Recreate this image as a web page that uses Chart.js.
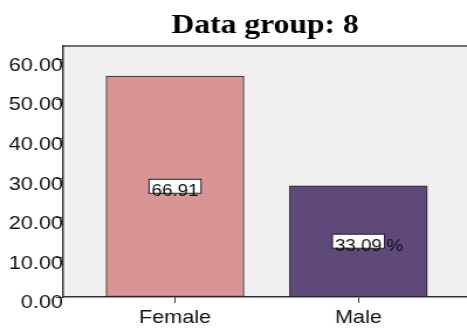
<!DOCTYPE html>
<html>
<head>
<meta charset="utf-8">
<script src="https://cdn.jsdelivr.net/npm/chart.js@4"></script>
<style>
  html, body { margin: 0; padding: 0; background: #fff; overflow: hidden; }
  /* the source picture is stretched sideways, text included */
  #wrap { width: 399px; height: 332px; transform: scaleX(1.1704); transform-origin: 0 0; }
</style>
</head>
<body>
<div id="wrap"><canvas id="chart" width="399" height="332"></canvas></div>
<script>
const categories = ['Female', 'Male']
const barValues = [55.9, 28.1]
const pctLabels = ['66.91', '33.09']
const pctSuffix = ['', '%']
const yTicks = [0, 10, 20, 30, 40, 50, 60]

const barColors = ['#d99594', '#5f497a']
const sansFont = "'Liberation Sans', Arial, sans-serif"

// grey plot background with a top border line
const plotBackground = {
  id: 'plotBackground',
  beforeDraw(chart) {
    const { ctx, chartArea: a } = chart
    ctx.save()
    ctx.fillStyle = '#f0f0f0'
    ctx.fillRect(a.left, a.top, a.right - a.left, a.bottom - a.top)
    ctx.strokeStyle = '#444'
    ctx.lineWidth = 1.5
    ctx.beginPath()
    ctx.moveTo(a.left, a.top)
    ctx.lineTo(a.right, a.top)
    ctx.stroke()
    ctx.restore()
  }
}

// white boxed percentage labels in the middle of each bar
const barLabels = {
  id: 'barLabels',
  afterDatasetsDraw(chart) {
    const { ctx } = chart
    const meta = chart.getDatasetMeta(0)
    ctx.save()
    ctx.font = '16px ' + sansFont
    meta.data.forEach((bar, i) => {
      const cx = bar.x
      const cy = (bar.y + bar.base) / 2
      ctx.fillStyle = '#fff'
      ctx.fillRect(cx - 22.2, cy - 7, 44.4, 14)
      ctx.strokeStyle = '#222'
      ctx.lineWidth = 1
      ctx.strokeRect(cx - 22.2, cy - 7, 44.4, 14)
      ctx.fillStyle = '#111'
      ctx.textBaseline = 'middle'
      ctx.textAlign = 'center'
      ctx.fillText(pctLabels[i], cx, cy + 5.5)
      if (pctSuffix[i]) {
        const w = ctx.measureText(pctLabels[i]).width
        ctx.textAlign = 'left'
        ctx.fillText(pctSuffix[i], cx + w / 2 + 4, cy + 5.5)
      }
    })
    ctx.restore()
  }
}

const ctx = document.getElementById('chart').getContext('2d')

new Chart(ctx, {
  type: 'bar',
  data: {
    datasets: [{
      data: categories.map((c, i) => ({ x: i + 1, y: barValues[i] })),
      backgroundColor: barColors,
      borderColor: '#222',
      borderWidth: 1,
      borderSkipped: false,
      barThickness: 117.7
    }]
  },
  options: {
    responsive: false,
    animation: false,
    layout: { padding: 0 },
    plugins: {
      legend: { display: false },
      tooltip: { enabled: false },
      title: {
        display: true,
        text: 'Data group: 8',
        fullSize: false,
        color: '#000',
        font: { family: "'Liberation Serif', 'Times New Roman', serif", size: 27, weight: 'bold', lineHeight: 1.2 },
        padding: { top: 10, bottom: 3.6 }
      }
    },
    scales: {
      x: {
        type: 'linear',
        offset: false,
        min: 0.389,
        max: 2.592,
        afterBuildTicks(scale) {
          scale.ticks = categories.map((c, i) => ({ value: i + 1 }))
        },
        afterFit(scale) {
          scale.height = 35
        },
        grid: { offset: false, drawOnChartArea: false, drawTicks: true, tickLength: 6, color: '#333' },
        border: { display: true, color: '#333', width: 1.5 },
        ticks: {
          color: '#111',
          padding: 4,
          maxRotation: 0,
          font: { family: sansFont, size: 18.5 },
          callback: (v) => categories[v - 1] || ''
        }
      },
      y: {
        min: 0,
        max: 63.5,
        afterBuildTicks(scale) {
          scale.ticks = yTicks.map(v => ({ value: v }))
        },
        afterFit(scale) {
          scale.width = 53.8
        },
        grid: { drawOnChartArea: false, drawTicks: true, tickLength: 6, color: '#333' },
        border: { display: true, color: '#333', width: 1.5 },
        ticks: {
          color: '#111',
          padding: -6,
          labelOffset: 6,
          font: { family: sansFont, size: 18.5 },
          callback: (v) => Number(v).toFixed(2)
        }
      }
    }
  },
  plugins: [plotBackground, barLabels]
})
</script>
</body>
</html>
